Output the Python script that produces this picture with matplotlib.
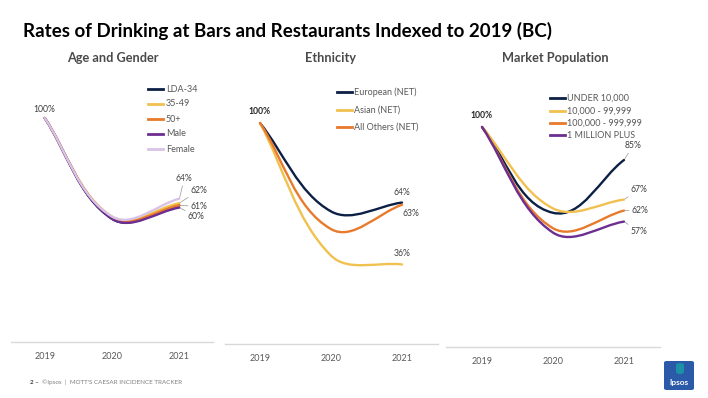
import numpy as np
import matplotlib
matplotlib.use("Agg")
import matplotlib.pyplot as plt
from matplotlib.path import Path
from matplotlib.patches import PathPatch, FancyBboxPatch
from matplotlib.lines import Line2D

plt.rcParams['font.family'] = ['Lato', 'DejaVu Sans']

W, H = 708, 398

# ---------------- data ----------------
years = ['2019', '2020', '2021']

title = "Rates of Drinking at Bars and Restaurants Indexed to 2019 (BC)"
panel_titles = ["Age and Gender", "Ethnicity", "Market Population"]

age_names = ['LDA-34', '35-49', '50+', 'Male', 'Female']
lda34 = [100, 55, 61]
age35_49 = [100, 56, 62]
age50p = [100, 55.5, 61]
male = [100, 55, 60]
female = [100, 56, 64]

eth_names = ['European (NET)', 'Asian (NET)', 'All Others (NET)']
european = [100, 60, 64]
asian = [100, 40, 36]
all_others = [100, 52, 63]

mkt_names = ['UNDER 10,000', '10,000 - 99,999', '100,000 - 999,999', '1 MILLION PLUS']
under10k = [100, 61, 85]
k10_99 = [100, 63, 67]
k100_999 = [100, 54, 62]
million_plus = [100, 52, 57]

NAVY = '#0c1f45'
GOLD = '#f1c150'
ORANGE = '#e87a2c'
PURPLE = '#6c2e91'
LAVENDER = '#d8c3e6'
GRAY_TXT = '#595959'
SUB_TXT = '#4a4a4a'

fig = plt.figure(figsize=(W / 100, H / 100), dpi=100)


def px_axes(x0, x1, y_zero, px_per_unit, ymax=110):
    top = y_zero - ymax * px_per_unit
    ax = fig.add_axes([x0 / W, 1 - y_zero / H, (x1 - x0) / W, (y_zero - top) / H])
    ax.set_xlim(-0.5, 2.5)
    ax.set_ylim(0, ymax)
    for s in ['top', 'left', 'right']:
        ax.spines[s].set_visible(False)
    ax.spines['bottom'].set_color('#d9d9d9')
    ax.spines['bottom'].set_linewidth(1.0)
    ax.set_yticks([])
    ax.set_xticks(range(len(years)))
    ax.set_xticklabels(years, fontsize=6.5, color=GRAY_TXT)
    ax.tick_params(axis='x', length=0, pad=7)
    ax.patch.set_alpha(0)
    return ax


def smooth(ax, ys, color, lw=1.7):
    xs = np.arange(len(ys), dtype=float)
    pts = ax.transData.transform(np.column_stack([xs, ys]))
    n = len(pts)

    def tan(i):
        t = pts[min(i + 1, n - 1)] - pts[max(i - 1, 0)]
        return t / np.linalg.norm(t)

    verts = [pts[0]]
    codes = [Path.MOVETO]
    for i in range(n - 1):
        d = np.linalg.norm(pts[i + 1] - pts[i])
        c1 = pts[i] + tan(i) * d / 3.0
        c2 = pts[i + 1] - tan(i + 1) * d / 3.0
        verts += [c1, c2, pts[i + 1]]
        codes += [Path.CURVE4] * 3
    verts = ax.transData.inverted().transform(np.array(verts))
    ax.add_patch(PathPatch(Path(verts, codes), facecolor='none', edgecolor=color,
                           lw=lw, capstyle='round', zorder=3))


def legend(x_line, x_text, ys, names, colors):
    for y, nm, c in zip(ys, names, colors):
        fig.add_artist(Line2D([x_line / W, (x_line + 15) / W], [1 - y / H, 1 - y / H],
                              color=c, lw=2.0))
        fig.text(x_text / W, 1 - y / H, nm, fontsize=6.5, color=GRAY_TXT, va='center', ha='left')


def label(ax, x, y, txt, dx, dy, leader=False, bold=False):
    kw = dict(arrowprops=dict(arrowstyle='-', color='#a6a6a6', lw=0.6, shrinkA=0, shrinkB=1)) if leader else {}
    ax.annotate(txt, xy=(x, y), xytext=(dx, dy), textcoords='offset pixels',
                fontsize=6.2, color='#262626' if bold else '#404040',
                fontweight='bold' if bold else 'normal', ha='center', va='center', **kw)


# ---------------- title ----------------
fig.text(23 / W, 1 - 31 / H, title, fontsize=13.5, fontweight='bold', color='black',
         ha='left', va='center')

# ---------------- panel 1 ----------------
ax1 = px_axes(11, 213, 342, 2.24)
fig.text(113 / W, 1 - 58 / H, panel_titles[0], fontsize=9.2, fontweight='bold', color=SUB_TXT,
         ha='center', va='center')
for ys, c in zip([lda34, age35_49, age50p, male, female], [NAVY, GOLD, ORANGE, PURPLE, LAVENDER]):
    smooth(ax1, ys, c)
label(ax1, 0, 100, '100%', 0, 9)
label(ax1, 2, female[2], '64%', 5, 20, leader=True)
label(ax1, 2, age35_49[2], '62%', 20, 13, leader=True)
label(ax1, 2, age50p[2], '61%', 20, -1, leader=True)
label(ax1, 2, male[2], '60%', 17, -9, leader=True)
legend(148, 166, [89, 104, 119, 134, 149], age_names, [NAVY, GOLD, ORANGE, PURPLE, LAVENDER])

# ---------------- panel 2 ----------------
ax2 = px_axes(224.5, 437.5, 344, 2.21)
fig.text(330 / W, 1 - 58 / H, panel_titles[1], fontsize=9.2, fontweight='bold', color=SUB_TXT,
         ha='center', va='center')
for ys, c in zip([european, asian, all_others], [NAVY, GOLD, ORANGE]):
    smooth(ax2, ys, c)
label(ax2, 0, 100, '100%', 0, 11, bold=True)
label(ax2, 2, european[2], '64%', 0, 10)
label(ax2, 2, all_others[2], '63%', 9, -9)
label(ax2, 2, asian[2], '36%', 0, 11)
legend(337, 354, [92, 110, 127], eth_names, [NAVY, GOLD, ORANGE])

# ---------------- panel 3 ----------------
ax3 = px_axes(446.5, 659.5, 347, 2.2)
fig.text(555 / W, 1 - 58 / H, panel_titles[2], fontsize=9.2, fontweight='bold', color=SUB_TXT,
         ha='center', va='center')
for ys, c in zip([under10k, k10_99, k100_999, million_plus], [NAVY, GOLD, ORANGE, PURPLE]):
    smooth(ax3, ys, c)
label(ax3, 0, 100, '100%', 0, 11, bold=True)
label(ax3, 2, under10k[2], '85%', 9, 14, leader=True)
label(ax3, 2, k10_99[2], '67%', 15, 10, leader=True)
label(ax3, 2, k100_999[2], '62%', 16, 0, leader=True)
label(ax3, 2, million_plus[2], '57%', 15, -10, leader=True)
legend(550, 567, [98, 111, 123, 135], mkt_names, [NAVY, GOLD, ORANGE, PURPLE])

# ---------------- footer ----------------
fig.text(30 / W, 1 - 382 / H, "2 \u2013", fontsize=4.5, color='#404040', fontweight='bold',
         ha='left', va='center')
fig.text(42 / W, 1 - 382 / H, "\u00a9Ipsos  |  MOTT'S CAESAR INCIDENCE TRACKER", fontsize=4.5,
         color='#7f7f7f', ha='left', va='center')

logo = FancyBboxPatch((664 / W, 1 - 390 / H), 30 / W, 29 / H,
                      boxstyle='round,pad=0,rounding_size=0.004', transform=fig.transFigure,
                      facecolor='#2a5aa8', edgecolor='none')
fig.add_artist(logo)
fig.add_artist(FancyBboxPatch((676 / W, 1 - 374 / H), 8 / W, 11 / H,
                              boxstyle='round,pad=0,rounding_size=0.006', transform=fig.transFigure,
                              facecolor='#1aa0a8', edgecolor='none', alpha=0.8))
fig.text(679 / W, 1 - 382 / H, 'Ipsos', fontsize=6, color='white', fontweight='bold',
         ha='center', va='center')

fig.savefig('out.png', dpi=100)
